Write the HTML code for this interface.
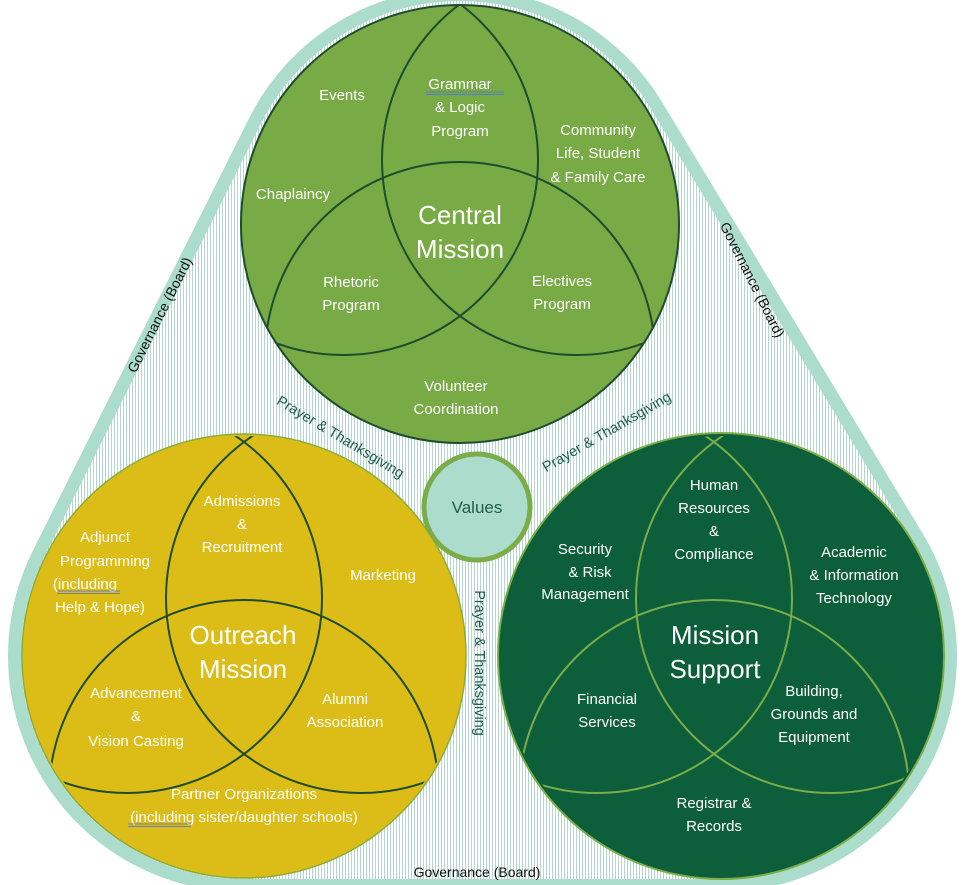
<!DOCTYPE html>
<html><head><meta charset="utf-8">
<style>
html,body{margin:0;padding:0;background:#fff;width:965px;height:885px;overflow:hidden;}
svg{display:block;overflow:hidden;}
text{font-family:"Liberation Sans",sans-serif;}
.w{fill:#fff;font-size:15px;text-anchor:middle;}
.t{fill:#fff;font-size:26px;text-anchor:middle;}
.p{fill:#1f5e4a;font-size:14.5px;text-anchor:middle;}
.g{fill:#111;font-size:14px;text-anchor:middle;}
</style></head>
<body>
<svg width="965" height="885" viewBox="0 0 965 885" xmlns="http://www.w3.org/2000/svg">
<defs>
<pattern id="h" width="3" height="10" patternUnits="userSpaceOnUse">
<rect width="3" height="10" fill="#fff"/>
<rect width="1" height="10" fill="#b4d6cc"/>
</pattern>
<clipPath id="c"><circle cx="0" cy="0" r="220"/></clipPath>
<clipPath id="frame"><rect width="965" height="885"/></clipPath>
</defs>
<g clip-path="url(#frame)">
<polygon points="460,224 244,656 721,656" fill="#acdccc" stroke="#acdccc" stroke-width="472" stroke-linejoin="round"/>
<polygon points="460,224 244,656 721,656" fill="url(#h)" stroke="url(#h)" stroke-width="446" stroke-linejoin="round"/>
</g>

<!-- top -->
<g transform="translate(460,224)">
<circle r="219" fill="#78ab46"/>
<g clip-path="url(#c)" fill="none" stroke="#1d4d2c" stroke-width="2">
<circle cx="117" cy="-64" r="195"/><circle cx="-117" cy="-64" r="195"/><circle cx="0" cy="133" r="195"/>
</g>
<circle r="219" fill="none" stroke="#1d4d2c" stroke-width="2"/>
</g>
<!-- yellow -->
<g transform="translate(244,656)">
<circle r="222" fill="#dcbd17"/>
<g clip-path="url(#c)" fill="none" stroke="#1d4d2c" stroke-width="2">
<circle cx="117" cy="-58" r="195"/><circle cx="-117" cy="-58" r="195"/><circle cx="0" cy="139" r="195"/>
</g>
<circle r="222" fill="none" stroke="#8aae3a" stroke-width="1.5"/>
</g>
<!-- green -->
<g transform="translate(721,656)">
<circle r="223" fill="#0d5e3a"/>
<g clip-path="url(#c)" fill="none" stroke="#7aad47" stroke-width="2">
<circle cx="110" cy="-58" r="195"/><circle cx="-124" cy="-58" r="195"/><circle cx="-7" cy="139" r="195"/>
</g>
<circle r="223" fill="none" stroke="#7aad47" stroke-width="2"/>
</g>

<circle cx="477" cy="507" r="53" fill="#acdccc" stroke="#7aad47" stroke-width="5"/>
<text x="477" y="513" class="p" style="font-size:17px">Values</text>

<text class="g" transform="translate(164,317) rotate(-63.4)">Governance (Board)</text>
<text class="g" transform="translate(748,282) rotate(63.4)">Governance (Board)</text>
<text class="g" x="477" y="877">Governance (Board)</text>

<text class="p" transform="translate(338,441) rotate(31)">Prayer &amp; Thanksgiving</text>
<text class="p" transform="translate(609,436) rotate(-30)">Prayer &amp; Thanksgiving</text>
<text class="p" transform="translate(475,663) rotate(90)">Prayer &amp; Thanksgiving</text>

<!-- top texts -->
<g class="w">
<text x="342" y="100">Events</text>
<text x="460" y="89">Grammar</text>
<text x="460" y="112">&amp; Logic</text>
<text x="460" y="136">Program</text>
<text x="598" y="135">Community</text>
<text x="598" y="158">Life, Student</text>
<text x="598" y="182">&amp; Family Care</text>
<text x="293" y="199">Chaplaincy</text>
<text x="351" y="287">Rhetoric</text>
<text x="351" y="310">Program</text>
<text x="562" y="286">Electives</text>
<text x="562" y="309">Program</text>
<text x="456" y="391">Volunteer</text>
<text x="456" y="414">Coordination</text>
</g>
<text class="t" x="460" y="224">Central</text>
<text class="t" x="460" y="258">Mission</text>
<line x1="426" y1="92" x2="504" y2="92" stroke="#4a6fe0" stroke-width="0.8"/>
<line x1="426" y1="94.5" x2="504" y2="94.5" stroke="#4a6fe0" stroke-width="0.8"/>

<!-- yellow texts -->
<g class="w">
<text x="105" y="542">Adjunct</text>
<text x="105" y="566">Programming</text>
<text x="85" y="589">(including</text>
<text x="100" y="612">Help &amp; Hope)</text>
<text x="242" y="506">Admissions</text>
<text x="242" y="529">&amp;</text>
<text x="242" y="552">Recruitment</text>
<text x="383" y="580">Marketing</text>
<text x="136" y="698">Advancement</text>
<text x="136" y="721">&amp;</text>
<text x="136" y="746">Vision Casting</text>
<text x="345" y="704">Alumni</text>
<text x="345" y="727">Association</text>
<text x="244" y="799">Partner Organizations</text>
<text x="244" y="822">(including sister/daughter schools)</text>
</g>
<text class="t" x="243" y="644">Outreach</text>
<text class="t" x="243" y="678">Mission</text>
<line x1="57" y1="591" x2="120" y2="591" stroke="#4a6fe0" stroke-width="0.8"/>
<line x1="57" y1="593.5" x2="120" y2="593.5" stroke="#4a6fe0" stroke-width="0.8"/>
<line x1="128" y1="824" x2="191" y2="824" stroke="#4a6fe0" stroke-width="0.8"/>
<line x1="128" y1="826.5" x2="191" y2="826.5" stroke="#4a6fe0" stroke-width="0.8"/>

<!-- green texts -->
<g class="w">
<text x="714" y="490">Human</text>
<text x="714" y="513">Resources</text>
<text x="714" y="536">&amp;</text>
<text x="714" y="559">Compliance</text>
<text x="585" y="554">Security</text>
<text x="590" y="577">&amp; Risk</text>
<text x="585" y="599">Management</text>
<text x="854" y="557">Academic</text>
<text x="854" y="580">&amp; Information</text>
<text x="854" y="603">Technology</text>
<text x="607" y="704">Financial</text>
<text x="607" y="727">Services</text>
<text x="814" y="696">Building,</text>
<text x="814" y="719">Grounds and</text>
<text x="814" y="742">Equipment</text>
<text x="714" y="808">Registrar &amp;</text>
<text x="714" y="831">Records</text>
</g>
<text class="t" x="715" y="644">Mission</text>
<text class="t" x="715" y="678">Support</text>
</svg>
</body></html>
